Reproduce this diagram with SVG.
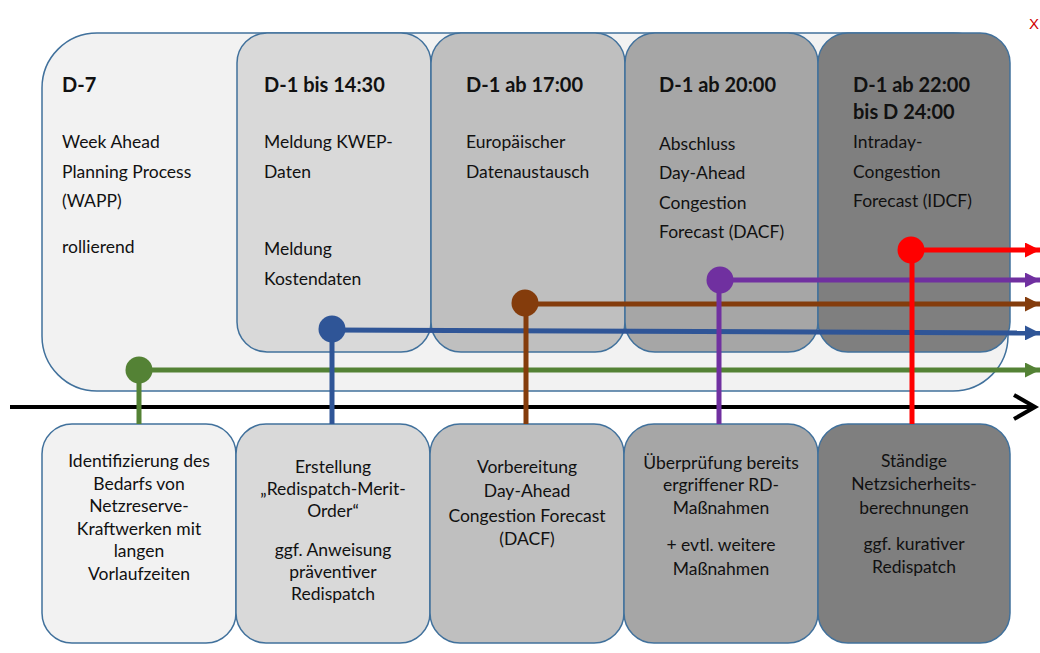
<svg xmlns="http://www.w3.org/2000/svg" width="1040" height="653" viewBox="0 0 1040 653">
<defs>
<style>
.box{stroke:#41719c;stroke-width:1.5}
.t{font-family:Lato,"Open Sans",sans-serif;font-size:17.5px;fill:#111}
.h{font-family:Lato,"Open Sans",sans-serif;font-size:20px;font-weight:bold;fill:#111}
.c{text-anchor:middle}
.ln{fill:none;stroke-width:5}
</style>
<marker id="ag" viewBox="0 0 10 10" refX="10" refY="5" markerWidth="3" markerHeight="3" orient="auto" markerUnits="strokeWidth"><path d="M0,0L10,5L0,10z" fill="#548235"/></marker>
<marker id="ab" viewBox="0 0 10 10" refX="10" refY="5" markerWidth="3" markerHeight="3" orient="auto" markerUnits="strokeWidth"><path d="M0,0L10,5L0,10z" fill="#2f5597"/></marker>
<marker id="ar" viewBox="0 0 10 10" refX="10" refY="5" markerWidth="3" markerHeight="3" orient="auto" markerUnits="strokeWidth"><path d="M0,0L10,5L0,10z" fill="#843c0c"/></marker>
<marker id="ap" viewBox="0 0 10 10" refX="10" refY="5" markerWidth="3" markerHeight="3" orient="auto" markerUnits="strokeWidth"><path d="M0,0L10,5L0,10z" fill="#7030a0"/></marker>
<marker id="ad" viewBox="0 0 10 10" refX="10" refY="5" markerWidth="3" markerHeight="3" orient="auto" markerUnits="strokeWidth"><path d="M0,0L10,5L0,10z" fill="#ff0000"/></marker>
</defs>
<rect width="1040" height="653" fill="#fff"/>
<text x="1029" y="29" style="font-family:'Liberation Sans',sans-serif;font-size:15px;fill:#d00000">X</text>

<g id="d7">
<rect class="box" x="42" y="33" width="966" height="358" rx="55" fill="#f2f2f2"/>
<text class="h" x="62" y="92">D-7</text>
<text class="t" x="62" y="148">Week Ahead</text>
<text class="t" x="62" y="178">Planning Process</text>
<text class="t" x="62" y="207">(WAPP)</text>
<text class="t" x="62" y="253">rollierend</text>
</g>
<g id="d1-1430">
<rect class="box" x="237" y="33" width="194" height="319" rx="30" fill="#d9d9d9"/>
<text class="h" x="264" y="92">D-1 bis 14:30</text>
<text class="t" x="264" y="148">Meldung KWEP-</text>
<text class="t" x="264" y="178">Daten</text>
<text class="t" x="264" y="255">Meldung</text>
<text class="t" x="264" y="285">Kostendaten</text>
</g>
<g id="d1-1700">
<rect class="box" x="431" y="33" width="194" height="319" rx="30" fill="#bfbfbf"/>
<text class="h" x="466" y="92">D-1 ab 17:00</text>
<text class="t" x="466" y="148">Europäischer</text>
<text class="t" x="466" y="178">Datenaustausch</text>
</g>
<g id="d1-2000">
<rect class="box" x="625" y="33" width="193" height="319" rx="30" fill="#a6a6a6"/>
<text class="h" x="659" y="92">D-1 ab 20:00</text>
<text class="t" x="659" y="150">Abschluss</text>
<text class="t" x="659" y="179">Day-Ahead</text>
<text class="t" x="659" y="209">Congestion</text>
<text class="t" x="659" y="238">Forecast (DACF)</text>
</g>
<g id="d1-2200">
<rect class="box" x="818" y="33" width="192" height="319" rx="30" fill="#7f7f7f"/>
<text class="h" x="853" y="92">D-1 ab 22:00</text>
<text class="h" x="853" y="119">bis D 24:00</text>
<text class="t" x="853" y="148">Intraday-</text>
<text class="t" x="853" y="178">Congestion</text>
<text class="t" x="853" y="207">Forecast (IDCF)</text>
</g>

<g id="b1">
<rect class="box" x="42" y="424" width="194" height="219" rx="30" fill="#f2f2f2"/>
<text class="t c" x="139" y="467">Identifizierung des</text>
<text class="t c" x="139" y="489.5">Bedarfs von</text>
<text class="t c" x="139" y="512">Netzreserve-</text>
<text class="t c" x="139" y="534.5">Kraftwerken mit</text>
<text class="t c" x="139" y="557">langen</text>
<text class="t c" x="139" y="579.5">Vorlaufzeiten</text>
</g>
<g id="b2">
<rect class="box" x="236" y="424" width="194" height="219" rx="30" fill="#d9d9d9"/>
<text class="t c" x="333" y="473">Erstellung</text>
<text class="t c" x="333" y="495">„Redispatch-Merit-</text>
<text class="t c" x="333" y="517">Order“</text>
<text class="t c" x="333" y="556">ggf. Anweisung</text>
<text class="t c" x="333" y="578">präventiver</text>
<text class="t c" x="333" y="600">Redispatch</text>
</g>
<g id="b3">
<rect class="box" x="430" y="424" width="194" height="219" rx="30" fill="#bfbfbf"/>
<text class="t c" x="527" y="473">Vorbereitung</text>
<text class="t c" x="527" y="497">Day-Ahead</text>
<text class="t c" x="527" y="522">Congestion Forecast</text>
<text class="t c" x="527" y="545">(DACF)</text>
</g>
<g id="b4">
<rect class="box" x="624" y="424" width="194" height="219" rx="30" fill="#a6a6a6"/>
<text class="t c" x="721" y="469">Überprüfung bereits</text>
<text class="t c" x="721" y="491">ergriffener RD-</text>
<text class="t c" x="721" y="514">Maßnahmen</text>
<text class="t c" x="721" y="551">+ evtl. weitere</text>
<text class="t c" x="721" y="575">Maßnahmen</text>
</g>
<g id="b5">
<rect class="box" x="818" y="424" width="192" height="219" rx="30" fill="#7f7f7f"/>
<text class="t c" x="914" y="467">Ständige</text>
<text class="t c" x="914" y="490">Netzsicherheits-</text>
<text class="t c" x="914" y="514">berechnungen</text>
<text class="t c" x="914" y="550">ggf. kurativer</text>
<text class="t c" x="914" y="573">Redispatch</text>
</g>

<g id="connectors">
<line x1="10" y1="407" x2="1034" y2="407" stroke="#000" stroke-width="4"/>
<polyline points="1014,395 1035,407 1014,419" fill="none" stroke="#000" stroke-width="4"/>

<path class="ln" stroke="#548235" d="M139,370H1040" marker-end="url(#ag)"/>
<path class="ln" stroke="#548235" d="M139,370V424"/>
<path class="ln" stroke="#2f5597" d="M332,330L1040,333" marker-end="url(#ab)"/>
<path class="ln" stroke="#2f5597" d="M332,330V424"/>
<path class="ln" stroke="#843c0c" d="M526,304H1040" marker-end="url(#ar)"/>
<path class="ln" stroke="#843c0c" d="M526,304V424"/>
<path class="ln" stroke="#7030a0" d="M719,280H1040" marker-end="url(#ap)"/>
<path class="ln" stroke="#7030a0" d="M719,280V424"/>
<path class="ln" stroke="#ff0000" d="M912,250H1040" marker-end="url(#ad)"/>
<path class="ln" stroke="#ff0000" d="M912,250V424"/>
<circle cx="139" cy="370" r="13.5" fill="#548235"/>
<circle cx="332" cy="329" r="13.5" fill="#2f5597"/>
<circle cx="525" cy="303" r="13.5" fill="#843c0c"/>
<circle cx="720" cy="280" r="13.5" fill="#7030a0"/>
<circle cx="911" cy="250" r="13.5" fill="#ff0000"/>
</g>
</svg>
